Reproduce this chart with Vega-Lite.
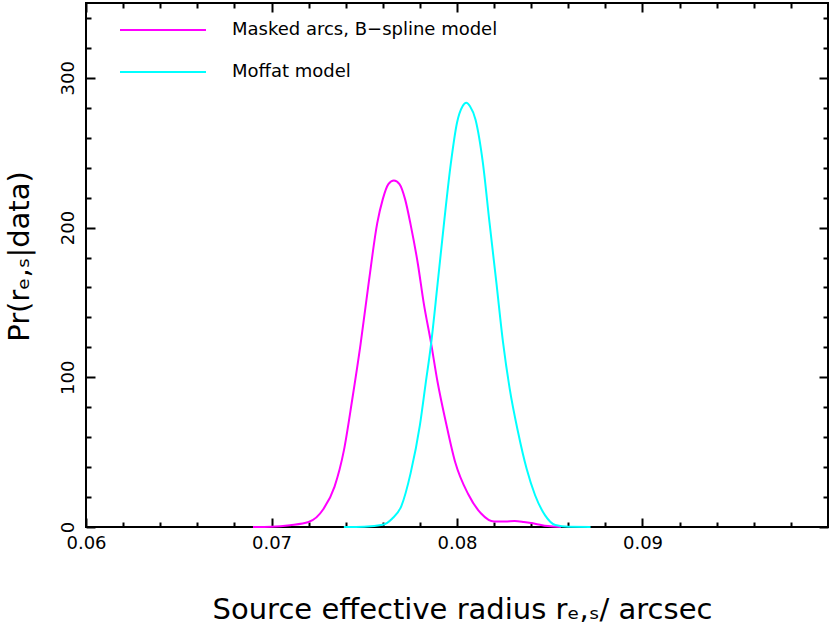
{
  "$schema": "https://vega.github.io/schema/vega-lite/v6.json",
  "width": 742,
  "height": 524,
  "autosize": "none",
  "padding": {"left": 86, "top": 3, "right": 2, "bottom": 107},
  "background": "white",
  "config": {
    "view": {"stroke": "black", "strokeWidth": 2},
    "font": "DejaVu Sans",
    "axis": {
      "domain": false,
      "grid": false,
      "tickColor": "black",
      "tickWidth": 2,
      "labelColor": "black",
      "titleColor": "black",
      "labelFont": "DejaVu Sans",
      "titleFont": "DejaVu Sans",
      "labelFontSize": 18,
      "titleFontWeight": "normal",
      "labelOverlap": false,
      "labelFlush": false,
      "labelBound": false
    }
  },
  "data": {
    "values": [
      {"x": 0.0690, "y": 0, "series": "Masked arcs, B−spline model"},
      {"x": 0.0700, "y": 0.2, "series": "Masked arcs, B−spline model"},
      {"x": 0.0710, "y": 1.2, "series": "Masked arcs, B−spline model"},
      {"x": 0.0720, "y": 3.3, "series": "Masked arcs, B−spline model"},
      {"x": 0.0728, "y": 12, "series": "Masked arcs, B−spline model"},
      {"x": 0.0734, "y": 27, "series": "Masked arcs, B−spline model"},
      {"x": 0.0739, "y": 51, "series": "Masked arcs, B−spline model"},
      {"x": 0.07435, "y": 85, "series": "Masked arcs, B−spline model"},
      {"x": 0.0748, "y": 122, "series": "Masked arcs, B−spline model"},
      {"x": 0.07525, "y": 164, "series": "Masked arcs, B−spline model"},
      {"x": 0.0757, "y": 203, "series": "Masked arcs, B−spline model"},
      {"x": 0.0760, "y": 219, "series": "Masked arcs, B−spline model"},
      {"x": 0.0763, "y": 229, "series": "Masked arcs, B−spline model"},
      {"x": 0.0766, "y": 231.5, "series": "Masked arcs, B−spline model"},
      {"x": 0.0769, "y": 229, "series": "Masked arcs, B−spline model"},
      {"x": 0.0772, "y": 219, "series": "Masked arcs, B−spline model"},
      {"x": 0.0775, "y": 202, "series": "Masked arcs, B−spline model"},
      {"x": 0.0779, "y": 175, "series": "Masked arcs, B−spline model"},
      {"x": 0.0782, "y": 150, "series": "Masked arcs, B−spline model"},
      {"x": 0.0786, "y": 123, "series": "Masked arcs, B−spline model"},
      {"x": 0.07895, "y": 97, "series": "Masked arcs, B−spline model"},
      {"x": 0.0794, "y": 70, "series": "Masked arcs, B−spline model"},
      {"x": 0.0799, "y": 43.4, "series": "Masked arcs, B−spline model"},
      {"x": 0.0806, "y": 22, "series": "Masked arcs, B−spline model"},
      {"x": 0.0813, "y": 9, "series": "Masked arcs, B−spline model"},
      {"x": 0.0820, "y": 3.6, "series": "Masked arcs, B−spline model"},
      {"x": 0.0826, "y": 3.6, "series": "Masked arcs, B−spline model"},
      {"x": 0.0831, "y": 4.0, "series": "Masked arcs, B−spline model"},
      {"x": 0.0836, "y": 3.4, "series": "Masked arcs, B−spline model"},
      {"x": 0.0842, "y": 2.2, "series": "Masked arcs, B−spline model"},
      {"x": 0.0849, "y": 0.6, "series": "Masked arcs, B−spline model"},
      {"x": 0.0856, "y": 0, "series": "Masked arcs, B−spline model"},
      {"x": 0.0739, "y": 0, "series": "Moffat model"},
      {"x": 0.0750, "y": 0.2, "series": "Moffat model"},
      {"x": 0.0760, "y": 1.5, "series": "Moffat model"},
      {"x": 0.0765, "y": 5.5, "series": "Moffat model"},
      {"x": 0.0770, "y": 14, "series": "Moffat model"},
      {"x": 0.0775, "y": 36, "series": "Moffat model"},
      {"x": 0.0780, "y": 68, "series": "Moffat model"},
      {"x": 0.0783, "y": 95, "series": "Moffat model"},
      {"x": 0.0786, "y": 122, "series": "Moffat model"},
      {"x": 0.07895, "y": 162, "series": "Moffat model"},
      {"x": 0.0793, "y": 203, "series": "Moffat model"},
      {"x": 0.07967, "y": 243, "series": "Moffat model"},
      {"x": 0.0800, "y": 270, "series": "Moffat model"},
      {"x": 0.0803, "y": 281, "series": "Moffat model"},
      {"x": 0.0805, "y": 283.3, "series": "Moffat model"},
      {"x": 0.0807, "y": 281, "series": "Moffat model"},
      {"x": 0.0810, "y": 272, "series": "Moffat model"},
      {"x": 0.08139, "y": 243.7, "series": "Moffat model"},
      {"x": 0.08175, "y": 203.6, "series": "Moffat model"},
      {"x": 0.08212, "y": 163.5, "series": "Moffat model"},
      {"x": 0.08248, "y": 123.5, "series": "Moffat model"},
      {"x": 0.08284, "y": 92.4, "series": "Moffat model"},
      {"x": 0.08329, "y": 63.4, "series": "Moffat model"},
      {"x": 0.08375, "y": 39, "series": "Moffat model"},
      {"x": 0.08421, "y": 21.2, "series": "Moffat model"},
      {"x": 0.08475, "y": 7.8, "series": "Moffat model"},
      {"x": 0.0853, "y": 1.3, "series": "Moffat model"},
      {"x": 0.0860, "y": 0.1, "series": "Moffat model"},
      {"x": 0.0872, "y": 0, "series": "Moffat model"}
    ]
  },
  "resolve": {"axis": {"x": "independent", "y": "independent"}},
  "layer": [
    {
      "mark": {"type": "line", "strokeWidth": 2, "interpolate": "monotone"},
      "encoding": {
        "x": {
          "field": "x", "type": "quantitative",
          "scale": {"domain": [0.06, 0.1], "nice": false, "zero": false},
          "axis": {
            "orient": "bottom",
            "title": "Source effective radius rₑ,ₛ/ arcsec",
            "titleFontSize": 29,
            "titlePadding": 39,
            "titleX": 376,
            "values": [0.06,0.062,0.064,0.066,0.068,0.07,0.072,0.074,0.076,0.078,0.08,0.082,0.084,0.086,0.088,0.09,0.092,0.094,0.096,0.098],
            "labelExpr": "abs(datum.value*100 - round(datum.value*100)) < 0.001 ? format(datum.value, '.2f') : ''",
            "tickSize": {"condition": {"test": "abs(datum.value*100 - round(datum.value*100)) < 0.001", "value": -9}, "value": -5},
            "labelPadding": 16
          }
        },
        "y": {
          "field": "y", "type": "quantitative",
          "scale": {"domain": [0, 350], "nice": false},
          "axis": {
            "orient": "left",
            "title": "Pr(rₑ,ₛ|data)",
            "titleFontSize": 29,
            "titlePadding": 21,
            "titleY": 253,
            "values": [0,20,40,60,80,100,120,140,160,180,200,220,240,260,280,300,320,340],
            "labelExpr": "datum.value % 100 === 0 ? datum.label : ''",
            "labelAngle": -90,
            "labelAlign": "center",
            "labelBaseline": "bottom",
            "tickSize": {"condition": {"test": "datum.value % 100 === 0", "value": -9}, "value": -5},
            "labelPadding": 18
          }
        },
        "color": {
          "field": "series", "type": "nominal",
          "scale": {"domain": ["Masked arcs, B−spline model", "Moffat model"], "range": ["#ff00ff", "#00ffff"]},
          "legend": {
            "orient": "none",
            "legendX": 33,
            "legendY": 12,
            "title": null,
            "padding": 0,
            "symbolType": "stroke",
            "symbolSize": 7396,
            "symbolStrokeWidth": 2,
            "labelFont": "DejaVu Sans",
            "labelFontSize": 18,
            "labelColor": "black",
            "labelOffset": 25,
            "clipHeight": 30,
            "rowPadding": 12,
            "labelLimit": 400
          }
        }
      }
    },
    {
      "mark": {"type": "line", "strokeOpacity": 0},
      "encoding": {
        "x": {
          "field": "x", "type": "quantitative",
          "axis": {
            "orient": "top",
            "title": null,
            "labels": false,
            "values": [0.06,0.062,0.064,0.066,0.068,0.07,0.072,0.074,0.076,0.078,0.08,0.082,0.084,0.086,0.088,0.09,0.092,0.094,0.096,0.098],
            "tickSize": {"condition": {"test": "abs(datum.value*100 - round(datum.value*100)) < 0.001", "value": -9}, "value": -5}
          }
        },
        "y": {
          "field": "y", "type": "quantitative",
          "axis": {
            "orient": "right",
            "title": null,
            "labels": false,
            "values": [0,20,40,60,80,100,120,140,160,180,200,220,240,260,280,300,320,340],
            "tickSize": {"condition": {"test": "datum.value % 100 === 0", "value": -9}, "value": -5}
          }
        },
        "detail": {"field": "series", "type": "nominal"}
      }
    }
  ]
}
